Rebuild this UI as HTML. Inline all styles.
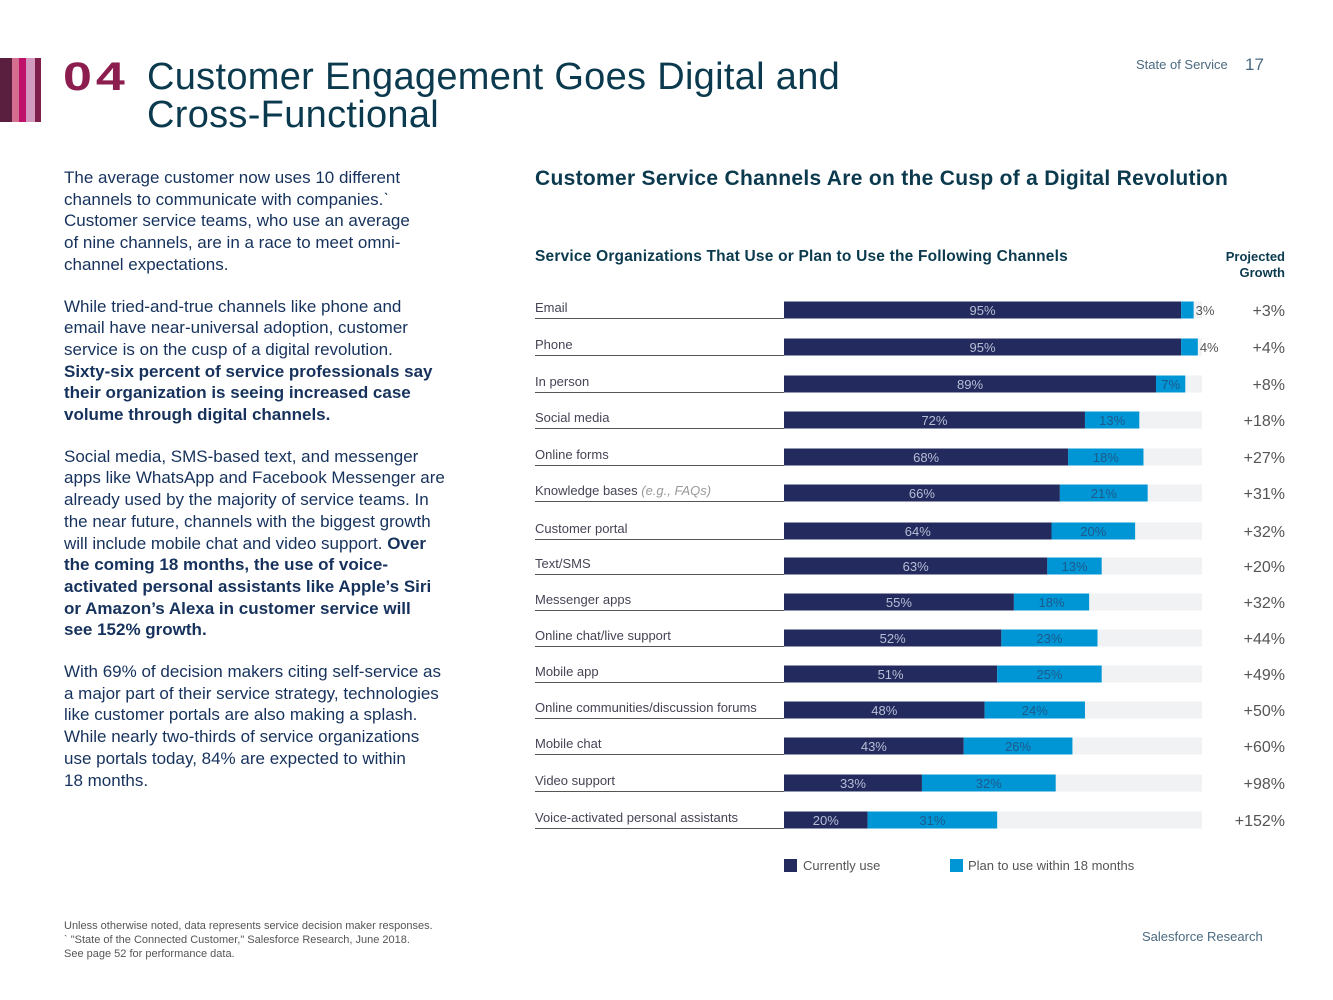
<!DOCTYPE html>
<html><head><meta charset="utf-8">
<style>
body{margin:0;width:1333px;height:1000px;background:#fff;position:relative;overflow:hidden;font-family:"Liberation Sans",sans-serif;}
.abs{position:absolute;}
.body p{margin:0 0 20px 0;white-space:nowrap;}
</style></head><body>
<div class="abs" style="left:0;top:58px;width:41px;height:64px;">
 <div class="abs" style="left:0;top:0;width:12px;height:64px;background:#5a1f3f"></div>
 <div class="abs" style="left:12px;top:0;width:7px;height:64px;background:#d46e8e"></div>
 <div class="abs" style="left:19px;top:0;width:7px;height:64px;background:#c0116a"></div>
 <div class="abs" style="left:26px;top:0;width:9px;height:64px;background:#d39ac0"></div>
 <div class="abs" style="left:35px;top:0;width:6px;height:64px;background:#7c1e49"></div>
</div>
<div class="abs" style="left:63px;top:55px;font-size:40px;font-weight:bold;color:#8b1e4f;letter-spacing:3px;transform:scaleX(1.3);transform-origin:left;">04</div>
<div class="abs" style="left:147px;top:58px;font-size:38px;line-height:38px;color:#0b3a4e;letter-spacing:0.3px;">Customer Engagement Goes Digital and<br>Cross-Functional</div>
<div class="abs" style="left:1136px;top:57px;font-size:13px;color:#4a6a80;">State of Service</div>
<div class="abs" style="left:1245px;top:55px;font-size:17px;color:#4a6a80;">17</div>
<div class="abs body" style="left:64px;top:167px;width:390px;font-size:17px;line-height:21.7px;color:#16325c;">
<p>The average customer now uses 10 different<br>channels to communicate with companies.ˋ<br>Customer service teams, who use an average<br>of nine channels, are in a race to meet omni-<br>channel expectations.</p>
<p>While tried-and-true channels like phone and<br>email have near-universal adoption, customer<br>service is on the cusp of a digital revolution.<br><b>Sixty-six percent of service professionals say<br>their organization is seeing increased case<br>volume through digital channels.</b></p>
<p>Social media, SMS-based text, and messenger<br>apps like WhatsApp and Facebook Messenger are<br>already used by the majority of service teams. In<br>the near future, channels with the biggest growth<br>will include mobile chat and video support. <b>Over<br>the coming 18 months, the use of voice-<br>activated personal assistants like Apple’s Siri<br>or Amazon’s Alexa in customer service will<br>see 152% growth.</b></p>
<p>With 69% of decision makers citing self-service as<br>a major part of their service strategy, technologies<br>like customer portals are also making a splash.<br>While nearly two-thirds of service organizations<br>use portals today, 84% are expected to within<br>18 months.</p>
</div>
<div class="abs" style="left:64px;top:919px;font-size:11px;line-height:14px;color:#555;">Unless otherwise noted, data represents service decision maker responses.<br>ˋ "State of the Connected Customer," Salesforce Research, June 2018.<br>See page 52 for performance data.</div>
<div class="abs" style="left:1142px;top:929px;font-size:13px;color:#4a6a80;">Salesforce Research</div>
<div class="abs" style="left:535px;top:167px;font-size:21px;font-weight:bold;color:#0b3a4e;letter-spacing:0.3px;">Customer Service Channels Are on the Cusp of a Digital Revolution</div>
<div class="abs" style="left:535px;top:248px;font-size:15.5px;font-weight:bold;color:#0b3a4e;letter-spacing:0.2px;">Service Organizations That Use or Plan to Use the Following Channels</div>
<div class="abs" style="left:1200px;top:249px;width:85px;text-align:right;font-size:13px;font-weight:bold;line-height:16px;color:#0b3a4e;">Projected<br>Growth</div>
<svg id="chart" class="abs" style="left:0;top:0" width="1333" height="1000"></svg>
<script>
const categories=["Email","Phone","In person","Social media","Online forms","Knowledge bases","Customer portal","Text/SMS","Messenger apps","Online chat/live support","Mobile app","Online communities/discussion forums","Mobile chat","Video support","Voice-activated personal assistants"];
const currentUse=[95,95,89,72,68,66,64,63,55,52,51,48,43,33,20];
const planToUse=[3,4,7,13,18,21,20,13,18,23,25,24,26,32,31];
const growth=["+3%","+4%","+8%","+18%","+27%","+31%","+32%","+20%","+32%","+44%","+49%","+50%","+60%","+98%","+152%"];
const rowY=[310,347,384,420,457,493,531,566,602,638,674,710,746,783,820];
const svg=document.getElementById('chart');
const NS='http://www.w3.org/2000/svg';
const x0=784,x1=1202;
const xs=v=>x0+(x1-x0)*v/100;
function mk(tag,attrs,txt){const e=document.createElementNS(NS,tag);for(const k in attrs)e.setAttribute(k,attrs[k]);if(txt!==undefined)e.textContent=txt;svg.appendChild(e);return e;}
const F='"Liberation Sans",sans-serif';
categories.forEach((c,i)=>{
 const y=rowY[i];
 const t=mk('rect',{x:x0,y:y-8.5,width:x1-x0,height:17,fill:'#f1f2f4'});
 
 
 const ln=mk('line',{x1:535,x2:784,y1:y+8.5,y2:y+8.5,stroke:'#555',"stroke-width":1});
 
 
 const lb=mk('text',{x:535,y:y+2,"font-size":13,fill:'#445',"font-family":F},c);
 
 
 if(c==="Knowledge bases"){const ts=document.createElementNS(NS,'tspan');ts.setAttribute('fill','#999');ts.setAttribute('font-style','italic');ts.textContent=' (e.g., FAQs)';lb.appendChild(ts);}
 const b1=mk('rect',{x:x0,y:y-8.5,width:xs(currentUse[i])-x0,height:17,fill:'#232b5e'});
 
 
 const b2=mk('rect',{x:xs(currentUse[i]),y:y-8.5,width:xs(planToUse[i])-x0,height:17,fill:'#0096d6'});
 
 
 const v1=mk('text',{x:(x0+xs(currentUse[i]))/2,y:y+5,"font-size":13,fill:'#b8bed6',"text-anchor":'middle',"font-family":F},currentUse[i]+'%');
 
 
 const small=planToUse[i]<6;
 const cx=small?xs(currentUse[i]+planToUse[i])+2:(xs(currentUse[i])+xs(currentUse[i]+planToUse[i]))/2;
 const v2=mk('text',{x:cx,y:y+5,"font-size":13,fill:small?'#555':'#1d5a8a',"text-anchor":small?'start':'middle',"font-family":F},planToUse[i]+'%');
 
 
 const g=mk('text',{x:1285,y:y+6,"font-size":16,fill:'#555',"text-anchor":'end',"font-family":F},growth[i]);
 
 
});
</script>
<div class="abs" style="left:784px;top:858px;font-size:13px;color:#555;"><span style="display:inline-block;width:13px;height:13px;background:#232b5e;vertical-align:-2px;margin-right:6px"></span>Currently use</div>
<div class="abs" style="left:950px;top:858px;font-size:13px;color:#555;"><span style="display:inline-block;width:13px;height:13px;background:#0096d6;vertical-align:-2px;margin-right:5px"></span>Plan to use within 18 months</div>
</body></html>
